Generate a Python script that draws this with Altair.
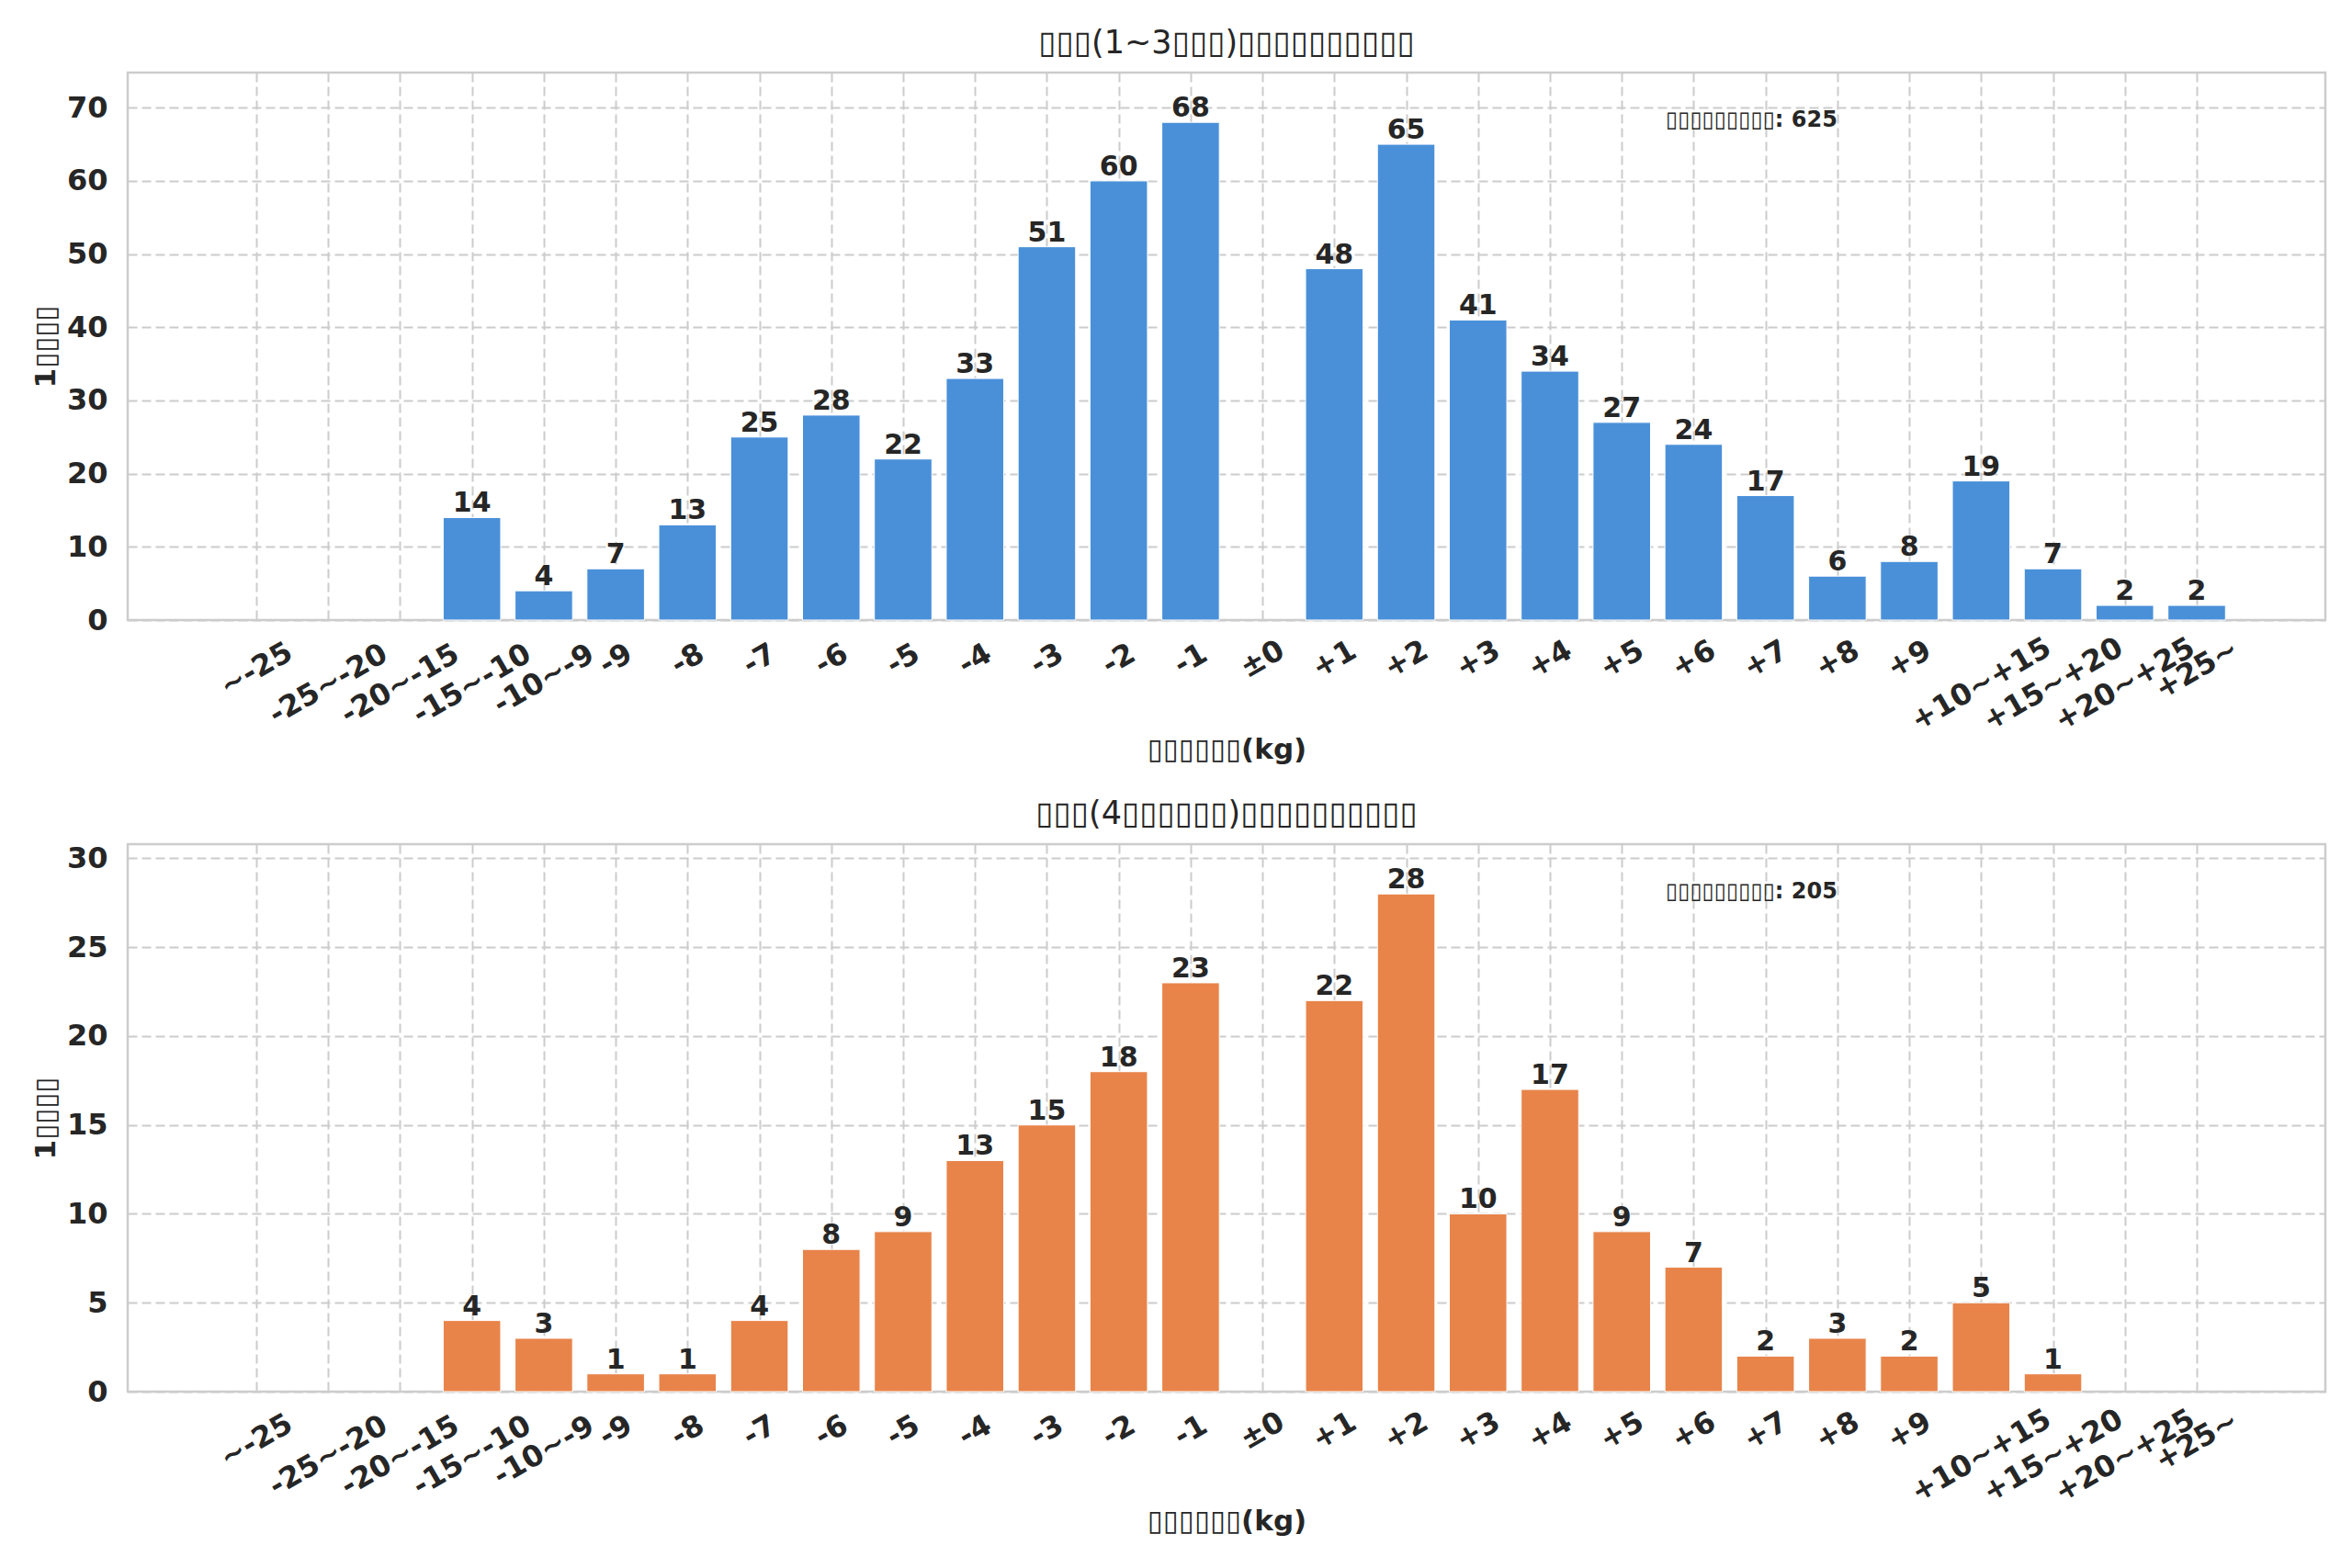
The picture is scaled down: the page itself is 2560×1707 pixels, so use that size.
import altair as alt
import pandas as pd

categories = ["~-25", "-25~-20", "-20~-15", "-15~-10", "-10~-9",
              "-9", "-8", "-7", "-6", "-5", "-4", "-3", "-2", "-1",
              "±0",
              "+1", "+2", "+3", "+4", "+5", "+6", "+7", "+8", "+9",
              "+10~+15", "+15~+20", "+20~+25", "+25~"]

counts_short = [0, 0, 0, 14, 4, 7, 13, 25, 28, 22, 33, 51, 60, 68, 0,
                48, 65, 41, 34, 27, 24, 17, 6, 8, 19, 7, 2, 2]
counts_long = [0, 0, 0, 4, 3, 1, 1, 4, 8, 9, 13, 15, 18, 23, 0,
               22, 28, 10, 17, 9, 7, 2, 3, 2, 5, 1, 0, 0]

title_short = "▯▯▯(1~3▯▯▯)▯▯▯▯▯▯▯▯▯▯"
title_long = "▯▯▯(4▯▯▯▯▯▯)▯▯▯▯▯▯▯▯▯▯"
x_title = "▯▯▯▯▯▯(kg)"
y_title = "1▯▯▯▯"
note_label = "▯▯▯▯▯▯▯▯▯"
totals = [625, 205]
colors = ["#4a90d9", "#e8844a"]
y_max = [74.8, 30.8]
y_ticks_short = [0, 10, 20, 30, 40, 50, 60, 70]
y_ticks_long = [0, 5, 10, 15, 20, 25, 30]

FONT = "DejaVu Sans"
TXT = "#262626"
W, H = 2392, 596
TICK_FS = 32
N = len(categories)
X_DOMAIN = [-0.4 - 0.05 * (N - 0.2), N - 0.6 + 0.05 * (N - 0.2)]


def panel(counts, title, color, ymax, ticks, total):
    df = pd.DataFrame({"cat": categories, "n": counts, "idx": list(range(N))})
    base = alt.Chart(df)
    xscale = alt.Scale(domain=X_DOMAIN, nice=False, zero=False)
    xenc = alt.X(
        "x0:Q", scale=xscale,
        axis=alt.Axis(title=x_title, values=list(range(N)), labels=False,
                      grid=True, titlePadding=126),
    )
    yenc = alt.Y(
        "n:Q",
        scale=alt.Scale(domain=[0, ymax], nice=False, zero=True),
        axis=alt.Axis(title=y_title, values=ticks, labelPadding=22,
                      titlePadding=6),
    )
    bars = base.transform_filter("datum.n > 0").transform_calculate(
        x0="datum.idx - 0.4", x1="datum.idx + 0.4"
    ).mark_bar(color=color, stroke="white", strokeWidth=1).encode(
        x=xenc, x2="x1:Q", y=yenc, y2=alt.datum(0))
    labels = base.transform_filter("datum.n > 0").mark_text(
        baseline="bottom", dy=0, font=FONT, fontWeight="bold",
        fontSize=30, color=TXT,
    ).encode(x=alt.X("idx:Q"), y=alt.Y("n:Q"), text="n:Q")
    # rotated category labels, bounding box centred on the tick, top aligned
    ticklabels = base.transform_calculate(
        ly=f"{H} + 18 + (length(datum.cat) * 0.68 * {TICK_FS} * 0.5 + {TICK_FS} * 0.866) / 2"
    ).mark_text(
        angle=330, align="center", baseline="middle", font=FONT,
        fontWeight="bold", fontSize=TICK_FS, color=TXT,
    ).encode(x=alt.X("idx:Q"), y=alt.Y("ly:Q", scale=None), text="cat:N")
    note = alt.Chart(pd.DataFrame({"t": [f"{note_label}: {total}"]})).mark_text(
        align="left", baseline="middle", font=FONT, fontWeight="bold",
        fontSize=24, color=TXT,
    ).encode(x=alt.value(1674), y=alt.value(52), text="t:N")
    return alt.layer(bars, labels, ticklabels, note).properties(
        width=W, height=H,
        title=alt.TitleParams(title, fontSize=35, font=FONT,
                              fontWeight="normal", color=TXT, offset=14,
                              anchor="middle"),
    )


top = panel(counts_short, title_short, colors[0], y_max[0], y_ticks_short, totals[0])
bottom = panel(counts_long, title_long, colors[1], y_max[1], y_ticks_long, totals[1])

chart = alt.vconcat(top, bottom, spacing=35).properties(
    padding={"left": 25, "top": 20, "right": 5, "bottom": 5},
    background="white",
).configure_axis(
    labelFont=FONT, labelFontWeight="bold", labelFontSize=TICK_FS, labelColor=TXT,
    titleFont=FONT, titleFontWeight="bold", titleFontSize=31, titleColor=TXT,
    gridColor="#cccccc", gridDash=[10, 5], gridWidth=2,
    domain=False, ticks=False,
).configure_view(
    stroke="#cccccc", strokeWidth=2.5,
)

chart.save("out.html", embed_options={"renderer": "svg", "actions": False})
